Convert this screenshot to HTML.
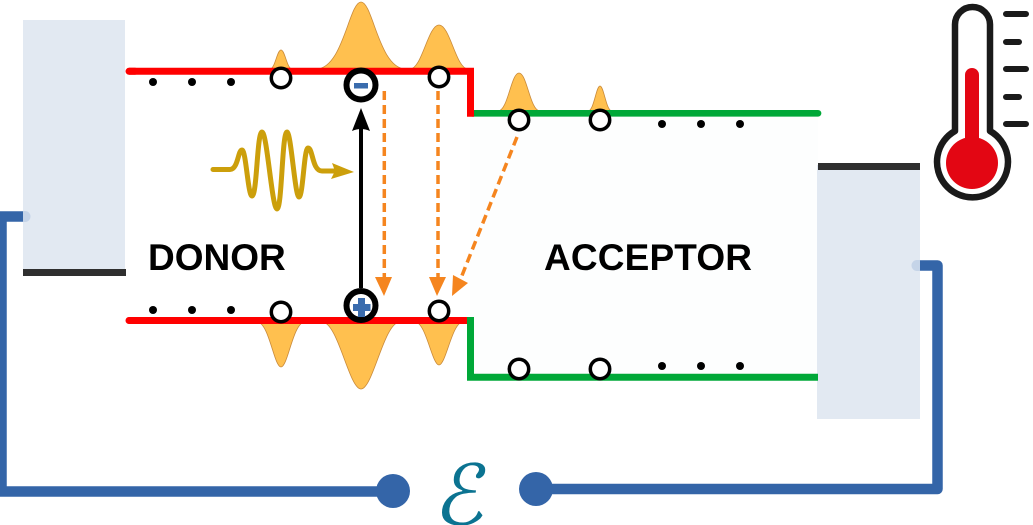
<!DOCTYPE html>
<html><head><meta charset="utf-8"><style>
html,body{margin:0;padding:0;background:#fff;width:1033px;height:525px;overflow:hidden}
svg{display:block}
text{font-family:"Liberation Sans",sans-serif}
</style></head><body>
<svg width="1033" height="525" viewBox="0 0 1033 525" xmlns="http://www.w3.org/2000/svg">
<rect x="470" y="115" width="348" height="263" fill="#fdfefe"/>
<rect x="23" y="20" width="102" height="252" fill="#e2e9f2"/>
<rect x="817" y="165" width="103" height="254" fill="#e2e9f2"/>
<rect x="23" y="269" width="103" height="7" fill="#2f2f2f"/>
<rect x="818" y="163" width="102" height="7" fill="#2f2f2f"/>
<!-- wires -->
<path d="M23 216.500H1.500V491.500H393" fill="none" stroke="#3465a8" stroke-width="10.500" stroke-linejoin="miter"/>
<path d="M23 211h2a5.500 5.500 0 0 1 0 11h-2z" fill="#c5d4e8"/>
<path d="M536 489H937.500V265.500H920" fill="none" stroke="#3465a8" stroke-width="10.500" stroke-linejoin="round"/>
<path d="M920 260h-3a5.500 5.500 0 0 0 0 11h3z" fill="#c5d4e8"/>
<circle cx="393" cy="491" r="17" fill="#3465a8"/>
<circle cx="536" cy="489" r="17" fill="#3465a8"/>
<text transform="translate(459,524.500) skewX(-8) scale(0.92,0.91)" x="0" y="0" font-size="92" fill="#0b7391" text-anchor="middle" font-style="italic" style="font-family:'DejaVu Serif','DejaVu Sans',serif">ℰ</text>
<!-- gaussians -->
<g fill="#ffc04f" stroke="#c98a3a" stroke-width="0.800">
<path d="M270 69C275 69 277 50 281 50C285 50 287 69 292 69Z"/>
<path d="M316 69C343 69 349 2 361 2C373 2 379 69 406 69Z"/>
<path d="M410 69C422 69 428 25 439 25C450 25 456 69 468 69Z"/>
<path d="M498 111C508 111 511 73 519 73C527 73 530 111 540 111Z"/>
<path d="M588 111C594 111 596 86 600 86C604 86 606 111 612 111Z"/>
<path d="M257 322C269 322 274 367 281 367C288 367 293 322 305 322Z"/>
<path d="M322 322C338 322 349 389 361 389C373 389 384 322 400 322Z"/>
<path d="M415 322C426 322 432 365 439 365C446 365 452 322 463 322Z"/>
</g>
<!-- levels -->
<path d="M472 113.300H818" stroke="#00a838" stroke-width="6.700" fill="none" stroke-linecap="round"/>
<path d="M470.500 317V377.300H818" stroke="#00a838" stroke-width="7" fill="none"/>
<path d="M129 71.300H470.500V116.700" stroke="#ff0000" stroke-width="7" fill="none" stroke-linejoin="miter"/>
<path d="M129 71.300H135M129 320.500H135" stroke="#ff0000" stroke-width="7" stroke-linecap="round" fill="none"/>
<path d="M129 320.500H467" stroke="#ff0000" stroke-width="7" fill="none"/>
<!-- dots -->
<g fill="#000">
<circle cx="153" cy="82" r="4"/><circle cx="192" cy="82" r="4"/><circle cx="231" cy="82" r="4"/>
<circle cx="153" cy="310" r="4"/><circle cx="192" cy="310" r="4"/><circle cx="231" cy="310" r="4"/>
<circle cx="662" cy="124" r="4"/><circle cx="701" cy="124" r="4"/><circle cx="740" cy="124" r="4"/>
<circle cx="662" cy="366" r="4"/><circle cx="701" cy="366" r="4"/><circle cx="740" cy="366" r="4"/>
</g>
<!-- black arrow -->
<path d="M361 288V128" stroke="#000" stroke-width="4" fill="none"/>
<path d="M361 108L370 131Q361 127 352 131Z" fill="#000"/>
<!-- orange arrows -->
<g stroke="#f5851f" stroke-width="3.500" fill="none" stroke-dasharray="9 5">
<path d="M384.300 91V280"/>
<path d="M438 91V280"/>
<path d="M517 137L461 278"/>
</g>
<g fill="#f5851f">
<path d="M375 277H392L384 296Z"/>
<path d="M429 277H446L437 296Z"/>
<path d="M453 275L468 283L452 296Z"/>
</g>
<!-- circles -->
<g fill="#fff" stroke="#000" stroke-width="3.500">
<circle cx="281" cy="78" r="9.700"/><circle cx="439" cy="77" r="9.700"/>
<circle cx="519" cy="120" r="9.700"/><circle cx="600" cy="120" r="9.700"/>
<circle cx="281" cy="312" r="9.700"/><circle cx="439" cy="311" r="9.700"/>
<circle cx="519" cy="369" r="9.700"/><circle cx="600" cy="369" r="9.700"/>
</g>
<g fill="#fff" stroke="#000" stroke-width="6">
<circle cx="361" cy="85" r="14.500"/><circle cx="361" cy="305.500" r="14.500"/>
</g>
<rect x="354" y="83" width="14" height="5.500" fill="#3a6cad"/>
<path d="M358 298H365V304H370.500V311H365V317H358V311H353V304H358Z" fill="#3a6cad"/>
<!-- wave -->
<path d="M213 169.500H230C238 169.500 238 150 242 150C246 150 248 196 252 196C257 196 257 132 262 132C267 132 272 209 277 209C282 209 282 132 287 132C291 132 295 197 299 197C303 197 304 148 308 148C313 148 312 171 322 171H336" fill="none" stroke="#cc9f0b" stroke-width="5" stroke-linecap="round"/>
<path d="M354 172L331 179L335 171L332 163Z" fill="#cc9f0b"/>
<!-- labels -->
<text x="148" y="270" font-size="37" font-weight="700" fill="#000">DONOR</text>
<text x="544" y="270" font-size="37" font-weight="700" fill="#000" textLength="208" lengthAdjust="spacing">ACCEPTOR</text>
<!-- thermometer -->
<path d="M955 131V24.500A17.500 17.500 0 0 1 990 24.500V131A35.500 35.500 0 1 1 955 131Z" fill="#fff" stroke="#1a1a1a" stroke-width="6.500" stroke-linejoin="round"/>
<rect x="965" y="68" width="14" height="80" rx="7" fill="#e30613"/>
<circle cx="972" cy="163" r="26" fill="#e30613"/>
<g stroke="#1a1a1a" stroke-width="6" stroke-linecap="round">
<path d="M1006 14H1026M1006 42H1019M1006 69H1026M1006 97H1019M1006 124H1026"/>
</g>
</svg>
</body></html>
